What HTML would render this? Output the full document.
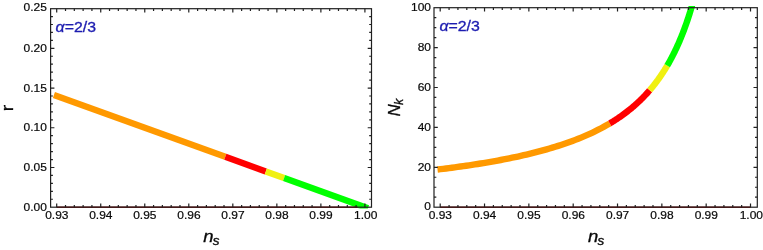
<!DOCTYPE html>
<html><head><meta charset="utf-8"><title>plot</title>
<style>
html,body{margin:0;padding:0;background:#fff;}
svg{display:block;will-change:transform;}
text{font-family:"Liberation Sans", sans-serif;}
</style></head><body>
<svg width="763" height="250" viewBox="0 0 763 250">
<rect width="763" height="250" fill="#fff"/>

<clipPath id="cL"><rect x="48.6" y="7.199999999999999" width="324.9" height="201.3"/></clipPath>
<g clip-path="url(#cL)" fill="none" stroke-width="6.4" stroke-linecap="butt" stroke-linejoin="round">
<path d="M53.90,94.98 L225.30,156.83" stroke="#ff9900"/>
<path d="M225.30,156.83 L265.80,171.44" stroke="#ff0000"/>
<path d="M265.80,171.44 L284.10,178.04" stroke="#f0f010"/>
<path d="M284.10,178.04 L368.00,208.32" stroke="#00ff00"/>
</g>
<g stroke="#202020" stroke-width="1.2" fill="none">
<rect x="50.6" y="8.7" width="320.90" height="198.50"/>
<line x1="56.7" y1="207.2" x2="357.5" y2="207.2" stroke="#420808" stroke-width="1.3"/>
<path d="M56.70,207.2v-3.8M56.70,8.7v3.8M65.51,207.2v-2.3M65.51,8.7v2.3M74.31,207.2v-2.3M74.31,8.7v2.3M83.12,207.2v-2.3M83.12,8.7v2.3M91.92,207.2v-2.3M91.92,8.7v2.3M100.73,207.2v-3.8M100.73,8.7v3.8M109.54,207.2v-2.3M109.54,8.7v2.3M118.34,207.2v-2.3M118.34,8.7v2.3M127.15,207.2v-2.3M127.15,8.7v2.3M135.95,207.2v-2.3M135.95,8.7v2.3M144.76,207.2v-3.8M144.76,8.7v3.8M153.57,207.2v-2.3M153.57,8.7v2.3M162.37,207.2v-2.3M162.37,8.7v2.3M171.18,207.2v-2.3M171.18,8.7v2.3M179.98,207.2v-2.3M179.98,8.7v2.3M188.79,207.2v-3.8M188.79,8.7v3.8M197.60,207.2v-2.3M197.60,8.7v2.3M206.40,207.2v-2.3M206.40,8.7v2.3M215.21,207.2v-2.3M215.21,8.7v2.3M224.01,207.2v-2.3M224.01,8.7v2.3M232.82,207.2v-3.8M232.82,8.7v3.8M241.63,207.2v-2.3M241.63,8.7v2.3M250.43,207.2v-2.3M250.43,8.7v2.3M259.24,207.2v-2.3M259.24,8.7v2.3M268.04,207.2v-2.3M268.04,8.7v2.3M276.85,207.2v-3.8M276.85,8.7v3.8M285.66,207.2v-2.3M285.66,8.7v2.3M294.46,207.2v-2.3M294.46,8.7v2.3M303.27,207.2v-2.3M303.27,8.7v2.3M312.07,207.2v-2.3M312.07,8.7v2.3M320.88,207.2v-3.8M320.88,8.7v3.8M329.69,207.2v-2.3M329.69,8.7v2.3M338.49,207.2v-2.3M338.49,8.7v2.3M347.30,207.2v-2.3M347.30,8.7v2.3M356.10,207.2v-2.3M356.10,8.7v2.3M364.91,207.2v-3.8M364.91,8.7v3.8M50.6,199.26h2.3M371.5,199.26h-2.3M50.6,191.31h2.3M371.5,191.31h-2.3M50.6,183.37h2.3M371.5,183.37h-2.3M50.6,175.42h2.3M371.5,175.42h-2.3M50.6,167.48h3.8M371.5,167.48h-3.8M50.6,159.54h2.3M371.5,159.54h-2.3M50.6,151.59h2.3M371.5,151.59h-2.3M50.6,143.65h2.3M371.5,143.65h-2.3M50.6,135.70h2.3M371.5,135.70h-2.3M50.6,127.76h3.8M371.5,127.76h-3.8M50.6,119.82h2.3M371.5,119.82h-2.3M50.6,111.87h2.3M371.5,111.87h-2.3M50.6,103.93h2.3M371.5,103.93h-2.3M50.6,95.98h2.3M371.5,95.98h-2.3M50.6,88.04h3.8M371.5,88.04h-3.8M50.6,80.10h2.3M371.5,80.10h-2.3M50.6,72.15h2.3M371.5,72.15h-2.3M50.6,64.21h2.3M371.5,64.21h-2.3M50.6,56.26h2.3M371.5,56.26h-2.3M50.6,48.32h3.8M371.5,48.32h-3.8M50.6,40.38h2.3M371.5,40.38h-2.3M50.6,32.43h2.3M371.5,32.43h-2.3M50.6,24.49h2.3M371.5,24.49h-2.3M50.6,16.54h2.3M371.5,16.54h-2.3"/>
</g>
<text transform="translate(56.80,219.20) scale(1.07,1.0)" font-size="11.2" fill="#080808" text-anchor="middle" stroke="#080808" stroke-width="0.2">0.93</text>
<text transform="translate(100.83,219.20) scale(1.07,1.0)" font-size="11.2" fill="#080808" text-anchor="middle" stroke="#080808" stroke-width="0.2">0.94</text>
<text transform="translate(144.86,219.20) scale(1.07,1.0)" font-size="11.2" fill="#080808" text-anchor="middle" stroke="#080808" stroke-width="0.2">0.95</text>
<text transform="translate(188.89,219.20) scale(1.07,1.0)" font-size="11.2" fill="#080808" text-anchor="middle" stroke="#080808" stroke-width="0.2">0.96</text>
<text transform="translate(232.92,219.20) scale(1.07,1.0)" font-size="11.2" fill="#080808" text-anchor="middle" stroke="#080808" stroke-width="0.2">0.97</text>
<text transform="translate(276.95,219.20) scale(1.07,1.0)" font-size="11.2" fill="#080808" text-anchor="middle" stroke="#080808" stroke-width="0.2">0.98</text>
<text transform="translate(320.98,219.20) scale(1.07,1.0)" font-size="11.2" fill="#080808" text-anchor="middle" stroke="#080808" stroke-width="0.2">0.99</text>
<text transform="translate(365.71,219.20) scale(1.07,1.0)" font-size="11.2" fill="#080808" text-anchor="middle" stroke="#080808" stroke-width="0.2">1.00</text>
<text transform="translate(46.90,210.60) scale(1.07,1.0)" font-size="11.2" fill="#080808" text-anchor="end" stroke="#080808" stroke-width="0.2">0.00</text>
<text transform="translate(46.90,171.08) scale(1.07,1.0)" font-size="11.2" fill="#080808" text-anchor="end" stroke="#080808" stroke-width="0.2">0.05</text>
<text transform="translate(46.90,131.36) scale(1.07,1.0)" font-size="11.2" fill="#080808" text-anchor="end" stroke="#080808" stroke-width="0.2">0.10</text>
<text transform="translate(46.90,91.64) scale(1.07,1.0)" font-size="11.2" fill="#080808" text-anchor="end" stroke="#080808" stroke-width="0.2">0.15</text>
<text transform="translate(46.90,51.92) scale(1.07,1.0)" font-size="11.2" fill="#080808" text-anchor="end" stroke="#080808" stroke-width="0.2">0.20</text>
<text transform="translate(46.90,11.00) scale(1.07,1.0)" font-size="11.2" fill="#080808" text-anchor="end" stroke="#080808" stroke-width="0.2">0.25</text>
<text transform="translate(55.60,31.50) scale(1.15,1.0)" font-size="13.8" fill="#1c1cb0" stroke="#1c1cb0" stroke-width="0.3"><tspan font-style="italic">α</tspan>=2/3</text>
<text transform="translate(203.30,242.40) scale(1.12,1.03)" font-size="16.5" fill="#080808" stroke="#080808" stroke-width="0.3" font-style="italic">n<tspan font-size="12" dx="-0.8" dy="2.6">s</tspan></text>
<text transform="translate(13.20,111.30) rotate(-90) scale(1.14,1.0)" font-size="17" fill="#080808" stroke="#080808" stroke-width="0.3">r</text>
<clipPath id="cR"><rect x="432.0" y="6.0" width="327.29999999999995" height="203.2"/></clipPath>
<g clip-path="url(#cR)" fill="none" stroke-width="6.4" stroke-linecap="butt" stroke-linejoin="round">
<path d="M437.50,169.53 L440.37,169.18 L443.24,168.82 L446.11,168.46 L448.98,168.09 L451.86,167.72 L454.73,167.33 L457.60,166.94 L460.47,166.54 L463.34,166.14 L466.21,165.72 L469.09,165.30 L471.96,164.87 L474.83,164.43 L477.70,163.98 L480.57,163.52 L483.45,163.05 L486.32,162.57 L489.19,162.08 L492.06,161.57 L494.93,161.06 L497.80,160.54 L500.68,160.00 L503.55,159.45 L506.42,158.89 L509.29,158.32 L512.16,157.73 L515.04,157.12 L517.91,156.51 L520.78,155.87 L523.65,155.22 L526.52,154.56 L529.39,153.87 L532.27,153.17 L535.14,152.45 L538.01,151.71 L540.88,150.95 L543.75,150.17 L546.63,149.36 L549.50,148.54 L552.37,147.69 L555.24,146.81 L558.11,145.91 L560.99,144.98 L563.86,144.03 L566.73,143.04 L569.60,142.02 L572.47,140.97 L575.34,139.88 L578.22,138.76 L581.09,137.60 L583.96,136.40 L586.83,135.16 L589.70,133.87 L592.58,132.54 L595.45,131.15 L598.32,129.72 L601.19,128.23 L604.06,126.68 L606.93,125.07 L609.81,123.39" stroke="#ff9900"/>
<path d="M609.81,123.39 L610.47,123.00 L611.14,122.59 L611.80,122.19 L612.47,121.78 L613.13,121.37 L613.80,120.95 L614.46,120.53 L615.13,120.10 L615.79,119.67 L616.46,119.24 L617.12,118.80 L617.79,118.36 L618.45,117.91 L619.12,117.46 L619.78,117.00 L620.45,116.54 L621.11,116.07 L621.78,115.60 L622.44,115.13 L623.11,114.65 L623.77,114.16 L624.44,113.67 L625.10,113.17 L625.77,112.67 L626.43,112.17 L627.10,111.65 L627.76,111.14 L628.43,110.61 L629.09,110.08 L629.76,109.55 L630.42,109.01 L631.08,108.46 L631.75,107.91 L632.41,107.35 L633.08,106.78 L633.74,106.21 L634.41,105.63 L635.07,105.05 L635.74,104.46 L636.40,103.86 L637.07,103.25 L637.73,102.64 L638.40,102.02 L639.06,101.39 L639.73,100.76 L640.39,100.11 L641.06,99.46 L641.72,98.81 L642.39,98.14 L643.05,97.46 L643.72,96.78 L644.38,96.09 L645.05,95.39 L645.71,94.68 L646.38,93.96 L647.04,93.23 L647.71,92.50 L648.37,91.75 L649.04,90.99 L649.70,90.23" stroke="#ff0000"/>
<path d="M649.70,90.23 L650.00,89.89 L650.29,89.54 L650.58,89.20 L650.87,88.86 L651.16,88.51 L651.45,88.16 L651.75,87.81 L652.04,87.45 L652.33,87.10 L652.62,86.74 L652.91,86.38 L653.21,86.02 L653.50,85.65 L653.79,85.28 L654.08,84.92 L654.37,84.54 L654.66,84.17 L654.96,83.79 L655.25,83.42 L655.54,83.04 L655.83,82.65 L656.12,82.27 L656.42,81.88 L656.71,81.49 L657.00,81.10 L657.29,80.70 L657.58,80.31 L657.88,79.91 L658.17,79.50 L658.46,79.10 L658.75,78.69 L659.04,78.28 L659.33,77.87 L659.63,77.45 L659.92,77.04 L660.21,76.62 L660.50,76.19 L660.79,75.77 L661.09,75.34 L661.38,74.91 L661.67,74.47 L661.96,74.03 L662.25,73.59 L662.54,73.15 L662.84,72.70 L663.13,72.25 L663.42,71.80 L663.71,71.35 L664.00,70.89 L664.30,70.43 L664.59,69.96 L664.88,69.50 L665.17,69.02 L665.46,68.55 L665.75,68.07 L666.05,67.59 L666.34,67.11 L666.63,66.62 L666.92,66.13 L667.21,65.64" stroke="#f0f010"/>
<path d="M667.21,65.64 L667.66,64.88 L668.10,64.11 L668.54,63.34 L668.98,62.56 L669.43,61.77 L669.87,60.97 L670.31,60.17 L670.75,59.35 L671.20,58.53 L671.64,57.69 L672.08,56.85 L672.52,55.99 L672.97,55.13 L673.41,54.26 L673.85,53.38 L674.29,52.48 L674.74,51.58 L675.18,50.66 L675.62,49.74 L676.07,48.80 L676.51,47.86 L676.95,46.90 L677.39,45.93 L677.84,44.95 L678.28,43.95 L678.72,42.95 L679.16,41.93 L679.61,40.89 L680.05,39.85 L680.49,38.79 L680.93,37.72 L681.38,36.64 L681.82,35.54 L682.26,34.42 L682.70,33.30 L683.15,32.15 L683.59,31.00 L684.03,29.82 L684.47,28.63 L684.92,27.43 L685.36,26.21 L685.80,24.97 L686.24,23.72 L686.69,22.44 L687.13,21.15 L687.57,19.85 L688.01,18.52 L688.46,17.17 L688.90,15.81 L689.34,14.42 L689.78,13.02 L690.23,11.59 L690.67,10.15 L691.11,8.68 L691.55,7.19 L692.00,5.67 L692.44,4.14 L692.88,2.58 L693.33,1.00 L693.77,-0.61" stroke="#00ff00"/>
</g>
<g stroke="#202020" stroke-width="1.2" fill="none">
<rect x="434.0" y="7.7" width="323.30" height="199.50"/>
<line x1="440.2" y1="207.2" x2="750.5" y2="207.2" stroke="#420808" stroke-width="1.3"/>
<path d="M440.20,207.2v-3.8M440.20,7.7v3.8M449.07,207.2v-2.3M449.07,7.7v2.3M457.93,207.2v-2.3M457.93,7.7v2.3M466.80,207.2v-2.3M466.80,7.7v2.3M475.66,207.2v-2.3M475.66,7.7v2.3M484.53,207.2v-3.8M484.53,7.7v3.8M493.40,207.2v-2.3M493.40,7.7v2.3M502.26,207.2v-2.3M502.26,7.7v2.3M511.13,207.2v-2.3M511.13,7.7v2.3M519.99,207.2v-2.3M519.99,7.7v2.3M528.86,207.2v-3.8M528.86,7.7v3.8M537.73,207.2v-2.3M537.73,7.7v2.3M546.59,207.2v-2.3M546.59,7.7v2.3M555.46,207.2v-2.3M555.46,7.7v2.3M564.32,207.2v-2.3M564.32,7.7v2.3M573.19,207.2v-3.8M573.19,7.7v3.8M582.06,207.2v-2.3M582.06,7.7v2.3M590.92,207.2v-2.3M590.92,7.7v2.3M599.79,207.2v-2.3M599.79,7.7v2.3M608.65,207.2v-2.3M608.65,7.7v2.3M617.52,207.2v-3.8M617.52,7.7v3.8M626.39,207.2v-2.3M626.39,7.7v2.3M635.25,207.2v-2.3M635.25,7.7v2.3M644.12,207.2v-2.3M644.12,7.7v2.3M652.98,207.2v-2.3M652.98,7.7v2.3M661.85,207.2v-3.8M661.85,7.7v3.8M670.72,207.2v-2.3M670.72,7.7v2.3M679.58,207.2v-2.3M679.58,7.7v2.3M688.45,207.2v-2.3M688.45,7.7v2.3M697.31,207.2v-2.3M697.31,7.7v2.3M706.18,207.2v-3.8M706.18,7.7v3.8M715.05,207.2v-2.3M715.05,7.7v2.3M723.91,207.2v-2.3M723.91,7.7v2.3M732.78,207.2v-2.3M732.78,7.7v2.3M741.64,207.2v-2.3M741.64,7.7v2.3M750.51,207.2v-3.8M750.51,7.7v3.8M434.0,197.22h2.3M757.3,197.22h-2.3M434.0,187.25h2.3M757.3,187.25h-2.3M434.0,177.27h2.3M757.3,177.27h-2.3M434.0,167.30h3.8M757.3,167.30h-3.8M434.0,157.32h2.3M757.3,157.32h-2.3M434.0,147.35h2.3M757.3,147.35h-2.3M434.0,137.38h2.3M757.3,137.38h-2.3M434.0,127.40h3.8M757.3,127.40h-3.8M434.0,117.42h2.3M757.3,117.42h-2.3M434.0,107.45h2.3M757.3,107.45h-2.3M434.0,97.47h2.3M757.3,97.47h-2.3M434.0,87.50h3.8M757.3,87.50h-3.8M434.0,77.53h2.3M757.3,77.53h-2.3M434.0,67.55h2.3M757.3,67.55h-2.3M434.0,57.57h2.3M757.3,57.57h-2.3M434.0,47.60h3.8M757.3,47.60h-3.8M434.0,37.62h2.3M757.3,37.62h-2.3M434.0,27.65h2.3M757.3,27.65h-2.3M434.0,17.67h2.3M757.3,17.67h-2.3"/>
</g>
<text transform="translate(440.30,219.20) scale(1.07,1.0)" font-size="11.2" fill="#080808" text-anchor="middle" stroke="#080808" stroke-width="0.2">0.93</text>
<text transform="translate(484.63,219.20) scale(1.07,1.0)" font-size="11.2" fill="#080808" text-anchor="middle" stroke="#080808" stroke-width="0.2">0.94</text>
<text transform="translate(528.96,219.20) scale(1.07,1.0)" font-size="11.2" fill="#080808" text-anchor="middle" stroke="#080808" stroke-width="0.2">0.95</text>
<text transform="translate(573.29,219.20) scale(1.07,1.0)" font-size="11.2" fill="#080808" text-anchor="middle" stroke="#080808" stroke-width="0.2">0.96</text>
<text transform="translate(617.62,219.20) scale(1.07,1.0)" font-size="11.2" fill="#080808" text-anchor="middle" stroke="#080808" stroke-width="0.2">0.97</text>
<text transform="translate(661.95,219.20) scale(1.07,1.0)" font-size="11.2" fill="#080808" text-anchor="middle" stroke="#080808" stroke-width="0.2">0.98</text>
<text transform="translate(706.28,219.20) scale(1.07,1.0)" font-size="11.2" fill="#080808" text-anchor="middle" stroke="#080808" stroke-width="0.2">0.99</text>
<text transform="translate(751.31,219.20) scale(1.07,1.0)" font-size="11.2" fill="#080808" text-anchor="middle" stroke="#080808" stroke-width="0.2">1.00</text>
<text transform="translate(431.00,209.90) scale(1.07,1.0)" font-size="11.2" fill="#080808" text-anchor="end" stroke="#080808" stroke-width="0.2">0</text>
<text transform="translate(431.00,170.60) scale(1.07,1.0)" font-size="11.2" fill="#080808" text-anchor="end" stroke="#080808" stroke-width="0.2">20</text>
<text transform="translate(431.00,130.70) scale(1.07,1.0)" font-size="11.2" fill="#080808" text-anchor="end" stroke="#080808" stroke-width="0.2">40</text>
<text transform="translate(431.00,90.80) scale(1.07,1.0)" font-size="11.2" fill="#080808" text-anchor="end" stroke="#080808" stroke-width="0.2">60</text>
<text transform="translate(431.00,50.90) scale(1.07,1.0)" font-size="11.2" fill="#080808" text-anchor="end" stroke="#080808" stroke-width="0.2">80</text>
<text transform="translate(431.00,10.50) scale(1.07,1.0)" font-size="11.2" fill="#080808" text-anchor="end" stroke="#080808" stroke-width="0.2">100</text>
<text transform="translate(439.40,30.70) scale(1.15,1.0)" font-size="13.8" fill="#1c1cb0" stroke="#1c1cb0" stroke-width="0.3"><tspan font-style="italic">α</tspan>=2/3</text>
<text transform="translate(588.10,242.40) scale(1.12,1.03)" font-size="16.5" fill="#080808" stroke="#080808" stroke-width="0.3" font-style="italic">n<tspan font-size="12" dx="-0.8" dy="2.6">s</tspan></text>
<text transform="translate(399.70,116.30) rotate(-90)" font-size="16.5" fill="#080808" stroke="#080808" stroke-width="0.3" font-style="italic">N<tspan font-size="12.5" dx="-0.7" dy="3.7">k</tspan></text>
</svg></body></html>
